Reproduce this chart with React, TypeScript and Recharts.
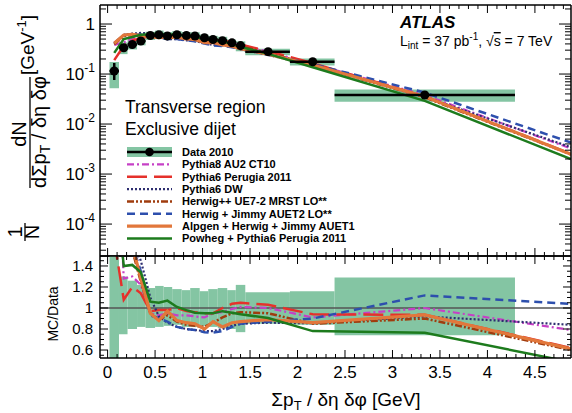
import React from 'react';
import {
  ComposedChart, Line, Scatter, ErrorBar, XAxis, YAxis,
  ReferenceArea, ReferenceLine
} from 'recharts';

const FONT = "'Liberation Sans', Arial, Helvetica, sans-serif";
const BAND = '#84c5a3';

// data bins (Data 2010)
const binLo = [0.02, 0.12, 0.21, 0.31, 0.40, 0.50, 0.59, 0.68, 0.78, 0.87, 0.97, 1.06, 1.16, 1.26, 1.35, 1.45, 1.92, 2.39];
const binHi = [0.12, 0.21, 0.31, 0.40, 0.50, 0.59, 0.68, 0.78, 0.87, 0.97, 1.06, 1.16, 1.26, 1.35, 1.45, 1.92, 2.39, 4.29];
const dataX = [0.07, 0.17, 0.26, 0.35, 0.45, 0.54, 0.63, 0.73, 0.83, 0.92, 1.02, 1.11, 1.21, 1.31, 1.40, 1.69, 2.16, 3.34];
const dataY = [0.115, 0.336, 0.39, 0.457, 0.59, 0.61, 0.575, 0.61, 0.59, 0.575, 0.53, 0.49, 0.465, 0.42, 0.37, 0.28, 0.176, 0.038];
const statLo = [0.039, 0, 0, 0, 0, 0, 0, 0, 0, 0, 0, 0, 0, 0, 0, 0, 0, 0];
const statHi = [0.051, 0, 0, 0, 0, 0, 0, 0, 0, 0, 0, 0, 0, 0, 0, 0, 0, 0];
const sysLo = [0.052, 0.25, 0.31, 0.375, 0.48, 0.50, 0.48, 0.51, 0.48, 0.47, 0.44, 0.40, 0.375, 0.335, 0.285, 0.238, 0.148, 0.028];
const sysHi = [0.174, 0.43, 0.49, 0.56, 0.70, 0.74, 0.69, 0.72, 0.69, 0.685, 0.615, 0.58, 0.555, 0.49, 0.45, 0.322, 0.204, 0.049];
const ratioLo = [0.40, 0.75, 0.80, 0.82, 0.81, 0.82, 0.83, 0.84, 0.82, 0.82, 0.83, 0.82, 0.81, 0.80, 0.77, 0.85, 0.84, 0.74];
const ratioHi = [1.70, 1.30, 1.26, 1.22, 1.19, 1.21, 1.20, 1.18, 1.17, 1.19, 1.16, 1.18, 1.19, 1.17, 1.22, 1.15, 1.16, 1.29];

// MC predictions
const mcX = [0.07, 0.17, 0.26, 0.35, 0.45, 0.54, 0.63, 0.73, 0.83, 0.92, 1.02, 1.11, 1.21, 1.31, 1.40, 1.69, 2.16, 3.34, 4.88];
const py8Top = [0.38, 0.43, 0.507, 0.558, 0.561, 0.567, 0.546, 0.567, 0.549, 0.529, 0.482, 0.466, 0.446, 0.416, 0.374, 0.28, 0.16, 0.038, 0.00324];
const per11Top = [0.19, 0.363, 0.468, 0.521, 0.572, 0.598, 0.564, 0.61, 0.572, 0.552, 0.504, 0.466, 0.465, 0.437, 0.389, 0.288, 0.165, 0.0355, 0.00254];
const dwTop = [0.414, 0.605, 0.644, 0.663, 0.649, 0.561, 0.495, 0.50, 0.472, 0.454, 0.413, 0.382, 0.372, 0.349, 0.315, 0.241, 0.150, 0.035, 0.00344];
const hwppTop = [0.391, 0.571, 0.605, 0.571, 0.561, 0.543, 0.535, 0.531, 0.496, 0.477, 0.435, 0.421, 0.423, 0.399, 0.355, 0.266, 0.15, 0.0342, 0.00246];
const jimmyTop = [0.414, 0.605, 0.624, 0.617, 0.549, 0.549, 0.500, 0.500, 0.472, 0.454, 0.408, 0.375, 0.363, 0.344, 0.315, 0.244, 0.158, 0.0426, 0.00426];
const alpgenTop = [0.414, 0.605, 0.624, 0.585, 0.56, 0.537, 0.558, 0.537, 0.507, 0.489, 0.424, 0.426, 0.381, 0.361, 0.322, 0.249, 0.151, 0.0355, 0.0025];
const powhegTop = [0.265, 0.50, 0.55, 0.612, 0.625, 0.64, 0.615, 0.616, 0.578, 0.549, 0.504, 0.466, 0.451, 0.401, 0.348, 0.253, 0.137, 0.0291, 0.00199];

const py8Ratio = [3.3, 1.28, 1.30, 1.22, 0.95, 0.93, 0.95, 0.93, 0.93, 0.92, 0.91, 0.95, 0.96, 0.99, 1.01, 1.0, 0.91, 1.0, 0.79];
const per11Ratio = [1.65, 1.08, 1.2, 1.14, 0.97, 0.98, 0.98, 1.0, 0.97, 0.96, 0.95, 0.95, 1.0, 1.04, 1.05, 1.03, 0.94, 0.935, 0.62];
const dwRatio = [3.6, 1.8, 1.65, 1.45, 1.1, 0.92, 0.86, 0.82, 0.80, 0.79, 0.78, 0.78, 0.80, 0.83, 0.85, 0.86, 0.855, 0.92, 0.84];
const hwppRatio = [3.4, 1.7, 1.55, 1.25, 0.95, 0.89, 0.93, 0.87, 0.84, 0.83, 0.82, 0.86, 0.91, 0.95, 0.96, 0.95, 0.85, 0.90, 0.60];
const jimmyRatio = [3.6, 1.8, 1.6, 1.35, 0.93, 0.90, 0.87, 0.82, 0.80, 0.79, 0.77, 0.765, 0.78, 0.82, 0.85, 0.87, 0.90, 1.12, 1.04];
const alpgenRatio = [3.6, 1.8, 1.6, 1.28, 0.95, 0.88, 0.97, 0.88, 0.86, 0.85, 0.80, 0.87, 0.82, 0.86, 0.87, 0.89, 0.86, 0.935, 0.61];
const powhegRatio = [2.3, 1.40, 1.41, 1.34, 1.06, 1.05, 1.07, 1.01, 0.98, 0.955, 0.95, 0.95, 0.97, 0.955, 0.94, 0.905, 0.78, 0.765, 0.485];

// axis ticks
const xMajorTicks = [0, 0.5, 1, 1.5, 2, 2.5, 3, 3.5, 4, 4.5];
const xTickLabels = ['0', '0.5', '1', '1.5', '2', '2.5', '3', '3.5', '4', '4.5'];
const logMajorTicks = [1, 0.1, 0.01, 0.001, 0.0001];
const logTickExp = ['', '-1', '-2', '-3', '-4'];
const ratioMajorTicks = [0.6, 0.8, 1, 1.2, 1.4];
const ratioTickLabels = ['0.6', '0.8', '1', '1.2', '1.4'];

const X_DOMAIN: [number, number] = [-0.08, 4.88];
const LOG_DOMAIN: [number, number] = [2.3e-5, 2.4];
const RATIO_DOMAIN: [number, number] = [0.524, 1.495];

const xTicks = Array.from({ length: 49 }, (_, i) => i / 10);
const logTicks: number[] = [];
[-5, -4, -3, -2, -1, 0].forEach((e) => {
  for (let m = 1; m <= 9; m++) {
    const v = m * Math.pow(10, e);
    if (v >= LOG_DOMAIN[0] && v <= LOG_DOMAIN[1]) logTicks.push(v);
  }
});
const ratioTicks = Array.from({ length: 19 }, (_, i) => Math.round((0.55 + i * 0.05) * 100) / 100);

const series = [
  { key: 'py8', name: 'Pythia8 AU2 CT10', color: '#c640c6', dash: '7 3 2 3', width: 2.2 },
  { key: 'per11', name: 'Pythia6 Perugia 2011', color: '#e5312b', dash: '20 7', width: 2.5 },
  { key: 'dw', name: 'Pythia6 DW', color: '#2e2e70', dash: '2 2', width: 2.2 },
  { key: 'hwpp', name: 'Herwig++ UE7-2 MRST LO**', color: '#a03c0e', dash: '7 2 2 2 2 2', width: 2.5 },
  { key: 'jimmy', name: 'Herwig + Jimmy AUET2 LO**', color: '#2d4fad', dash: '8 5', width: 2.5 },
  { key: 'alpgen', name: 'Alpgen + Herwig + Jimmy AUET1', color: '#e2773b', dash: undefined, width: 3.2 },
  { key: 'powheg', name: 'Powheg + Pythia6 Perugia 2011', color: '#1d7b1d', dash: undefined, width: 2.5 },
];

const topRows = mcX.map((x, i) => ({
  x, py8: py8Top[i], per11: per11Top[i], dw: dwTop[i], hwpp: hwppTop[i],
  jimmy: jimmyTop[i], alpgen: alpgenTop[i], powheg: powhegTop[i],
}));
const ratioRows = mcX.map((x, i) => ({
  x, py8: py8Ratio[i], per11: per11Ratio[i], dw: dwRatio[i], hwpp: hwppRatio[i],
  jimmy: jimmyRatio[i], alpgen: alpgenRatio[i], powheg: powhegRatio[i],
}));
const dataPoints = dataX.map((x, i) => ({
  x, y: dataY[i],
  xerr: [x - binLo[i], binHi[i] - x],
  yerr: [statLo[i], statHi[i]],
}));

const near = (a: number, b: number) => Math.abs(a - b) < 1e-6;
const isMult = (v: number, step: number) => near(v / step, Math.round(v / step));

const xTick = (side: 'top' | 'bottom', labels: boolean) => (p: any) => {
  const v = p.payload.value;
  const major = isMult(v, 0.5);
  const dir = side === 'bottom' ? -1 : 1;
  const idx = xMajorTicks.findIndex((t) => near(t, v));
  return (
    <g>
      <line x1={p.x} x2={p.x} y1={p.y} y2={p.y + dir * (major ? 8 : 4)} stroke="#000" strokeWidth={1} />
      {labels && idx >= 0 && (
        <text x={p.x} y={p.y + 20} textAnchor="middle" fontSize={17} fontFamily={FONT} fill="#000">
          {xTickLabels[idx]}
        </text>
      )}
    </g>
  );
};

const logTick = (side: 'left' | 'right') => (p: any) => {
  const v = p.payload.value;
  const lg = Math.log10(v);
  const major = near(lg, Math.round(lg));
  const dir = side === 'left' ? 1 : -1;
  const idx = logMajorTicks.findIndex((t) => near(Math.log10(t), lg));
  return (
    <g>
      <line x1={p.x} x2={p.x + dir * (major ? 12 : 6)} y1={p.y} y2={p.y} stroke="#000" strokeWidth={1} />
      {side === 'left' && idx >= 0 && (
        <text x={p.x - 5} y={p.y + 6} textAnchor="end" fontSize={17} fontFamily={FONT} fill="#000">
          {logTickExp[idx] === '' ? '1' : '10'}
          {logTickExp[idx] !== '' && <tspan fontSize={12} dy={-8}>{logTickExp[idx]}</tspan>}
        </text>
      )}
    </g>
  );
};

const ratioTick = (side: 'left' | 'right') => (p: any) => {
  const v = p.payload.value;
  const major = isMult(v, 0.2);
  const dir = side === 'left' ? 1 : -1;
  const idx = ratioMajorTicks.findIndex((t) => near(t, v));
  return (
    <g>
      <line x1={p.x} x2={p.x + dir * (major ? 8 : 4)} y1={p.y} y2={p.y} stroke="#000" strokeWidth={1} />
      {side === 'left' && idx >= 0 && (
        <text x={p.x - 7} y={p.y + 5} textAnchor="end" fontSize={15} fontFamily={FONT} fill="#000">
          {ratioTickLabels[idx]}
        </text>
      )}
    </g>
  );
};

const frame = { stroke: '#000', strokeWidth: 1.5 };

const legendY0 = 152;
const legendDy = 12.35;

const Overlay = () => (
  <svg width={572} height={413} fontFamily={FONT}
    style={{ position: 'absolute', left: 0, top: 0, pointerEvents: 'none' }}>
    <g transform="rotate(-90)" fill="#000">
      <text x={-232} y={22} fontSize={20} textAnchor="middle">1</text>
      <line x1={-241} x2={-223} y1={25} y2={25} stroke="#000" strokeWidth={1.3} />
      <text x={-232} y={39} fontSize={20} textAnchor="middle">N</text>
      <text x={-134} y={26} fontSize={20} textAnchor="middle">dN</text>
      <line x1={-188} x2={-77} y1={30} y2={30} stroke="#000" strokeWidth={1.3} />
      <text x={-132} y={46} fontSize={20} textAnchor="middle">
        dΣp<tspan fontSize={14} dy={4}>T</tspan><tspan dy={-4}> / δη δφ</tspan>
      </text>
      <text x={-45} y={34} fontSize={19} textAnchor="middle">
        [GeV<tspan fontSize={13} dy={-8}>-1</tspan><tspan dy={8}>]</tspan>
      </text>
      <text x={-314} y={58} fontSize={14} textAnchor="middle">MC/Data</text>
    </g>

    <text x={346} y={406} fontSize={19} textAnchor="middle" fill="#000">
      Σp<tspan fontSize={13} dy={4}>T</tspan><tspan dy={-4}> / δη δφ [GeV]</tspan>
    </text>

    <text x={400} y={28} fontSize={17} fontWeight="bold" fontStyle="italic" fill="#000">ATLAS</text>
    <text x={400} y={46} fontSize={14} fill="#000">
      L<tspan fontSize={10} dy={3}>int</tspan><tspan dy={-3}> = 37 pb</tspan>
      <tspan fontSize={10} dy={-6}>-1</tspan><tspan dy={6}>, √</tspan>
      <tspan textDecoration="overline">s</tspan><tspan> = 7 TeV</tspan>
    </text>

    <text x={125} y={113} fontSize={17.5} fill="#000">Transverse region</text>
    <text x={125} y={135} fontSize={17.5} fill="#000">Exclusive dijet</text>

    <rect x={127} y={legendY0 - 5} width={45} height={10} fill={BAND} />
    <line x1={127} x2={172} y1={legendY0} y2={legendY0} stroke="#000" strokeWidth={2.5} />
    <circle cx={149.5} cy={legendY0} r={4.3} fill="#000" />
    <text x={182} y={legendY0 + 4} fontSize={11} fontWeight="bold" fill="#000">Data 2010</text>
    {series.map((s, i) => {
      const y = legendY0 + (i + 1) * legendDy;
      return (
        <g key={s.key}>
          <line x1={127} x2={172} y1={y} y2={y} stroke={s.color} strokeWidth={s.width}
            strokeDasharray={s.dash} />
          <text x={182} y={y + 4} fontSize={11} fontWeight="bold" fill="#000">{s.name}</text>
        </g>
      );
    })}
  </svg>
);

const App: React.FC = () => (
  <div style={{ position: 'absolute', left: 0, top: 0, width: 572, height: 413, background: '#fff', fontFamily: FONT }}>
    <div style={{ position: 'absolute', left: 0, top: 0 }}>
      <ComposedChart width={572} height={257} data={topRows} margin={{ top: 4, right: 0, bottom: 0, left: 0 }}>
        <XAxis dataKey="x" type="number" domain={X_DOMAIN} allowDataOverflow ticks={xTicks} interval={0}
          height={1} tickSize={0} tickMargin={0} tickLine={false} axisLine={frame} tick={xTick('bottom', false)} />
        <XAxis xAxisId="top" orientation="top" dataKey="x" type="number" domain={X_DOMAIN} allowDataOverflow
          ticks={xTicks} interval={0} height={1} tickSize={0} tickMargin={0} tickLine={false} axisLine={frame}
          tick={xTick('top', false)} />
        <YAxis scale="log" type="number" domain={LOG_DOMAIN} allowDataOverflow ticks={logTicks} interval={0}
          width={100} tickSize={0} tickMargin={0} tickLine={false} axisLine={frame} tick={logTick('left')} />
        <YAxis yAxisId="right" orientation="right" scale="log" type="number" domain={LOG_DOMAIN} allowDataOverflow
          ticks={logTicks} interval={0} width={1} tickSize={0} tickMargin={0} tickLine={false} axisLine={frame}
          tick={logTick('right')} />

        {dataX.map((_, i) => (
          <ReferenceArea key={i} x1={binLo[i]} x2={binHi[i]} y1={sysLo[i]} y2={sysHi[i]}
            fill={BAND} fillOpacity={1} stroke="none" ifOverflow="hidden" />
        ))}

        {series.map((s) => (
          <Line key={s.key} dataKey={s.key} type="linear" stroke={s.color} strokeWidth={s.width}
            strokeDasharray={s.dash} dot={false} activeDot={false} isAnimationActive={false} />
        ))}

        <Scatter data={dataPoints} dataKey="y" fill="#000" isAnimationActive={false}>
          <ErrorBar dataKey="xerr" direction="x" width={0} stroke="#000" strokeWidth={2.5} />
          <ErrorBar dataKey="yerr" direction="y" width={0} stroke="#000" strokeWidth={2.5} />
        </Scatter>
      </ComposedChart>
    </div>

    <div style={{ position: 'absolute', left: 0, top: 255 }}>
      <ComposedChart width={572} height={158} data={ratioRows} margin={{ top: 0, right: 0, bottom: 0, left: 0 }}>
        <XAxis dataKey="x" type="number" domain={X_DOMAIN} allowDataOverflow ticks={xTicks} interval={0}
          height={55} tickSize={0} tickMargin={0} tickLine={false} axisLine={frame} tick={xTick('bottom', true)} />
        <XAxis xAxisId="top" orientation="top" dataKey="x" type="number" domain={X_DOMAIN} allowDataOverflow
          ticks={xTicks} interval={0} height={1} tickSize={0} tickMargin={0} tickLine={false} axisLine={frame}
          tick={xTick('top', false)} />
        <YAxis type="number" domain={RATIO_DOMAIN} allowDataOverflow ticks={ratioTicks} interval={0}
          width={100} tickSize={0} tickMargin={0} tickLine={false} axisLine={frame} tick={ratioTick('left')} />
        <YAxis yAxisId="right" orientation="right" type="number" domain={RATIO_DOMAIN} allowDataOverflow
          ticks={ratioTicks} interval={0} width={1} tickSize={0} tickMargin={0} tickLine={false} axisLine={frame}
          tick={ratioTick('right')} />

        {dataX.map((_, i) => (
          <ReferenceArea key={i} x1={binLo[i]} x2={binHi[i]} y1={ratioLo[i]} y2={ratioHi[i]}
            fill={BAND} fillOpacity={1} stroke="none" ifOverflow="hidden" />
        ))}
        <ReferenceLine y={1} stroke="#555" strokeWidth={1.5} />

        {series.map((s) => (
          <Line key={s.key} dataKey={s.key} type="linear" stroke={s.color} strokeWidth={s.width}
            strokeDasharray={s.dash} dot={false} activeDot={false} isAnimationActive={false} />
        ))}
      </ComposedChart>
    </div>

    <Overlay />
  </div>
);

export default App;
